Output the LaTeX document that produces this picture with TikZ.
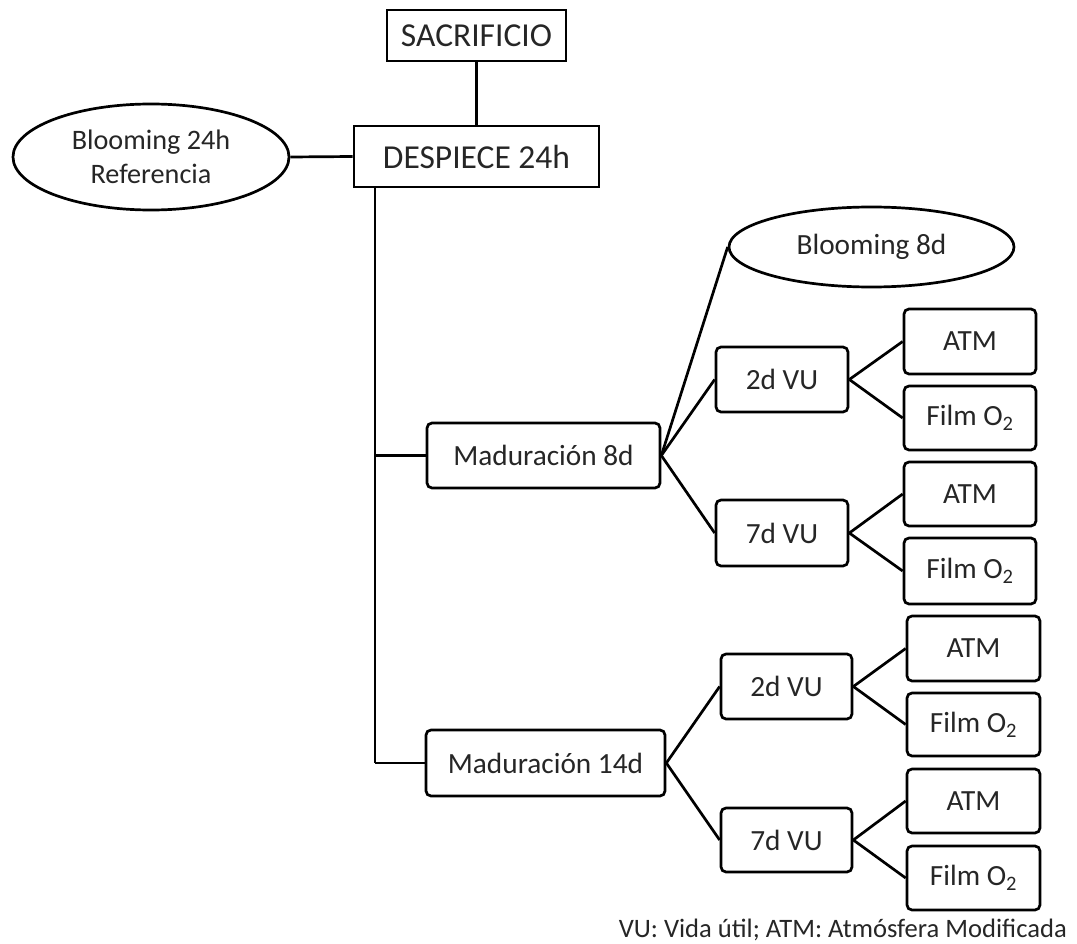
\documentclass[tikz,border=0pt]{standalone}
\usepackage{fontspec}
\setmainfont{Carlito}
\usetikzlibrary{shapes.geometric}
\begin{document}
\begin{tikzpicture}[x=1pt,y=-1pt,
  every node/.style={font=\fontsize{29.3}{34}\selectfont, text=black!85, inner sep=0pt},
  sq/.style={draw=black, line width=2.7pt},
  rb/.style={draw=black, line width=2.7pt, rounded corners=5pt},
  ov/.style={draw=black, line width=2.7pt, ellipse},
  conn/.style={line width=2.7pt, draw=black},
  big/.style={font=\fontsize{33.5}{38}\selectfont}]
\useasboundingbox (0,0) rectangle (1077,944);
% top
\node[sq, big, minimum width=179pt, minimum height=51pt] (sac) at (476.5,35.5) {SACRIFICIO};
\node[sq, big, minimum width=245pt, minimum height=61pt] (des) at (476.5,156.5) {DESPIECE 24h};
\node[ov, align=center, font=\fontsize{28.2}{34}\selectfont, minimum width=276pt, minimum height=106pt] (e24) at (151,157) {Blooming 24h\\Referencia};
% maduracion
\node[rb, minimum width=233pt, minimum height=65pt] (mad8) at (543.5,455.5) {Maduración 8d};
\node[rb, minimum width=239pt, minimum height=66pt] (mad14) at (545.5,763) {Maduración 14d};
\node[ov, minimum width=285pt, minimum height=80pt] (b8) at (871.5,247) {Blooming 8d};
% VU
\node[rb, minimum width=132pt, minimum height=65pt] (v2a) at (782,379.5) {2d VU};
\node[rb, minimum width=132pt, minimum height=66pt] (v7a) at (782,533) {7d VU};
\node[rb, minimum width=131pt, minimum height=65pt] (v2b) at (786.5,686.5) {2d VU};
\node[rb, minimum width=131pt, minimum height=64pt] (v7b) at (786.5,840) {7d VU};
% leaves
\node[rb, minimum width=132pt, minimum height=65pt] (a1) at (970,341.5) {ATM};
\node[rb, minimum width=132pt, minimum height=64pt] (f1) at (970,418) {Film O\textsubscript{2}};
\node[rb, minimum width=132pt, minimum height=64pt] (a2) at (970,494) {ATM};
\node[rb, minimum width=132pt, minimum height=66pt] (f2) at (970,571) {Film O\textsubscript{2}};
\node[rb, minimum width=133pt, minimum height=65pt] (a3) at (973.5,648.5) {ATM};
\node[rb, minimum width=133pt, minimum height=63pt] (f3) at (973.5,724.5) {Film O\textsubscript{2}};
\node[rb, minimum width=133pt, minimum height=64pt] (a4) at (973.5,801) {ATM};
\node[rb, minimum width=133pt, minimum height=64pt] (f4) at (973.5,878) {Film O\textsubscript{2}};
% footer
\node[anchor=base east, font=\fontsize{26.6}{30}\selectfont] (foot) at (1067,937) {VU: Vida útil; ATM: Atmósfera Modificada};
% connectors
\coordinate (vt) at (375,188);
\coordinate (vb) at (375,763);
\draw[conn] (sac.south) -- (des.north);
\draw[conn] (e24.east) -- (des.west);
\draw[conn] (vt) -- (vb);
\draw[conn] (vt |- mad8.west) -- (mad8.west);
\draw[conn] (vb) -- (mad14.west);
\draw[conn] (mad8.east) -- (b8.west);
\draw[conn] (mad8.east) -- (v2a.west);
\draw[conn] (mad8.east) -- (v7a.west);
\draw[conn] (mad14.east) -- (v2b.west);
\draw[conn] (mad14.east) -- (v7b.west);
\draw[conn] (v2a.east) -- (a1.west);
\draw[conn] (v2a.east) -- (f1.west);
\draw[conn] (v7a.east) -- (a2.west);
\draw[conn] (v7a.east) -- (f2.west);
\draw[conn] (v2b.east) -- (a3.west);
\draw[conn] (v2b.east) -- (f3.west);
\draw[conn] (v7b.east) -- (a4.west);
\draw[conn] (v7b.east) -- (f4.west);
\end{tikzpicture}
\end{document}
